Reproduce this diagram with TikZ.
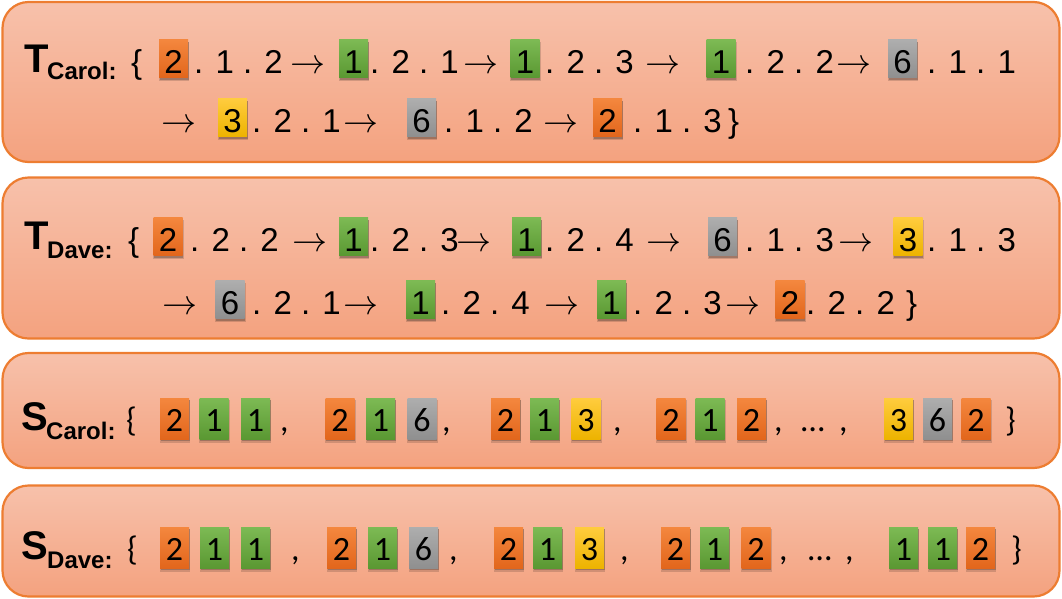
\RequirePackage{fix-cm}
\documentclass[tikz,border=0pt]{standalone}
\usepackage{fontspec}
\usetikzlibrary{shadows}
\newfontfamily\arialf{Liberation Sans}
\newfontfamily\calf{Carlito}
\newcommand\tfnt{\arialf\fontsize{33}{33}\selectfont}
\newcommand\sfnt{\calf\fontsize{34}{34}\selectfont}
\newcommand\lblfnt{\arialf\bfseries\fontsize{40}{40}\selectfont}
\newcommand\subfnt{\arialf\bfseries\fontsize{24}{24}\selectfont}
\newcommand\arrfnt{\fontsize{35}{35}\selectfont}
\definecolor{panT}{HTML}{F7C1AB}
\definecolor{panB}{HTML}{F4A27F}
\definecolor{panD}{HTML}{ED7D31}
\definecolor{oT}{HTML}{F4873E}
\definecolor{oB}{HTML}{E2661C}
\definecolor{gT}{HTML}{7DBA54}
\definecolor{gB}{HTML}{5A9832}
\definecolor{yT}{HTML}{FFCC3E}
\definecolor{yB}{HTML}{EDB300}
\definecolor{aT}{HTML}{AEAEAE}
\definecolor{aB}{HTML}{8F8F8F}
\tikzset{
  panel/.style={draw=panD, line width=2.2pt, rounded corners=26pt, top color=panT, bottom color=panB, inner sep=0pt},
  bxbase/.style={anchor=base, inner sep=0pt, minimum width=29pt, text=black,
     general shadow={shadow xshift=0.5pt, shadow yshift=-3pt, opacity=0.15, fill=black, shadow scale=1.04},
     drop shadow={shadow xshift=0.8pt, shadow yshift=-2pt, opacity=0.28, fill=black!85}},
  tbx/.style={bxbase, text height=33.5pt, text depth=4.5pt, font=\tfnt},
  sbx/.style={bxbase, text height=33pt, text depth=8pt, font=\sfnt},
  cO/.style={top color=oT, bottom color=oB},
  cG/.style={top color=gT, bottom color=gB},
  cY/.style={top color=yT, bottom color=yB},
  cA/.style={top color=aT, bottom color=aB},
  ttxt/.style={anchor=base west, inner sep=0pt, font=\tfnt},
  stxt/.style={anchor=base west, inner sep=0pt, font=\sfnt},
  arr/.style={anchor=base, inner sep=0pt, font=\arrfnt},
  lbl/.style={anchor=base west, inner sep=0pt, font=\lblfnt},
  sublbl/.style={anchor=base west, inner sep=0pt, font=\subfnt},
}
\begin{document}
\begin{tikzpicture}[x=1pt, y=-1pt]
\useasboundingbox (0,0) rectangle (1062,598);
% panels
\node[panel, minimum width=1057pt, minimum height=160pt] (p1) at (531,82) {};
\node[panel, minimum width=1057pt, minimum height=161pt] (p2) at (531,258) {};
\node[panel, minimum width=1057pt, minimum height=115pt] (p3) at (531,410.5) {};
\node[panel, minimum width=1057pt, minimum height=111pt] (p4) at (531,541) {};

% ---------------- T Carol ----------------
\node[lbl] (tcL) at (24,72) {T};
\node[sublbl] (tcS) at (47,79) {Carol:};
\node[ttxt] (tcB) at (131,73) {\{};
\node[tbx,cO] (tc1) at (173.5,73) {2};
\node[ttxt] (tc1t) at (194,73) {. 1 . 2};
\node[arr] (tca1) at (307.5,73) {$\rightarrow$};
\node[tbx,cG] (tc2) at (353.5,73) {1};
\node[ttxt] (tc2t) at (370,73) {. 2 . 1};
\node[arr] (tca2) at (481,73) {$\rightarrow$};
\node[tbx,cG] (tc3) at (525,73) {1};
\node[ttxt] (tc3t) at (545,73) {. 2 . 3};
\node[arr] (tca3) at (662.5,73) {$\rightarrow$};
\node[tbx,cG] (tc4) at (721,73) {1};
\node[ttxt] (tc4t) at (745,73) {. 2 . 2};
\node[arr] (tca4) at (854,73) {$\rightarrow$};
\node[tbx,cA] (tc5) at (902.5,73) {6};
\node[ttxt] (tc5t) at (927,73) {. 1 . 1};
% line 2
\node[arr] (tca5) at (179,132) {$\rightarrow$};
\node[tbx,cY] (tc6) at (232.5,132) {3};
\node[ttxt] (tc6t) at (252,132) {. 2 . 1};
\node[arr] (tca6) at (361,132) {$\rightarrow$};
\node[tbx,cA] (tc7) at (421.5,132) {6};
\node[ttxt] (tc7t) at (444,132) {. 1 . 2};
\node[arr] (tca7) at (561,132) {$\rightarrow$};
\node[tbx,cO] (tc8) at (607.5,132) {2};
\node[ttxt] (tc8t) at (633,132) {. 1 . 3};
\node[ttxt] (tcE) at (728,132) {\}};

% ---------------- T Dave ----------------
\node[lbl] (tdL) at (24,249) {T};
\node[sublbl] (tdS) at (47,258) {Dave:};
\node[ttxt] (tdB) at (128,251) {\{};
\node[tbx,cO] (td1) at (168,251) {2};
\node[ttxt] (td1t) at (190,251) {. 2 . 2};
\node[arr] (tda1) at (309.5,251) {$\rightarrow$};
\node[tbx,cG] (td2) at (353.5,251) {1};
\node[ttxt] (td2t) at (370,251) {. 2 . 3};
\node[arr] (tda2) at (474,251) {$\rightarrow$};
\node[tbx,cG] (td3) at (526.5,251) {1};
\node[ttxt] (td3t) at (545,251) {. 2 . 4};
\node[arr] (tda3) at (663.5,251) {$\rightarrow$};
\node[tbx,cA] (td4) at (722.5,251) {6};
\node[ttxt] (td4t) at (745,251) {. 1 . 3};
\node[arr] (tda4) at (855.5,251) {$\rightarrow$};
\node[tbx,cY] (td5) at (908,251) {3};
\node[ttxt] (td5t) at (927,251) {. 1 . 3};
% line 2
\node[arr] (tda5) at (179.5,314) {$\rightarrow$};
\node[tbx,cA] (td6) at (230,314) {6};
\node[ttxt] (td6t) at (252,314) {. 2 . 1};
\node[arr] (tda6) at (360.5,314) {$\rightarrow$};
\node[tbx,cG] (td7) at (420.5,314) {1};
\node[ttxt] (td7t) at (441,314) {. 2 . 4};
\node[arr] (tda7) at (561.5,314) {$\rightarrow$};
\node[tbx,cG] (td8) at (611.5,314) {1};
\node[ttxt] (td8t) at (633,314) {. 2 . 3};
\node[arr] (tda8) at (742.5,314) {$\rightarrow$};
\node[tbx,cO] (td9) at (790,314) {2};
\node[ttxt] (td9t) at (806,314) {. 2 . 2};
\node[ttxt] (tdE) at (906,314) {\}};

% ---------------- S Carol ----------------
\node[lbl] (scL) at (21,430) {S};
\node[sublbl] (scS) at (46,439) {Carol:};
\node[stxt] (scB) at (126,431) {\{};
\node[sbx,cO] (sc1) at (174.5,431) {2};
\node[sbx,cG] (sc2) at (214,431) {1};
\node[sbx,cG] (sc3) at (255.5,431) {1};
\node[stxt] (scc1) at (280,431) {,};
\node[sbx,cO] (sc4) at (340,431) {2};
\node[sbx,cG] (sc5) at (380.5,431) {1};
\node[sbx,cA] (sc6) at (422,431) {6};
\node[stxt] (scc2) at (442,431) {,};
\node[sbx,cO] (sc7) at (505.5,431) {2};
\node[sbx,cG] (sc8) at (544.5,431) {1};
\node[sbx,cY] (sc9) at (586,431) {3};
\node[stxt] (scc3) at (613,431) {,};
\node[sbx,cO] (sc10) at (671,431) {2};
\node[sbx,cG] (sc11) at (710,431) {1};
\node[sbx,cO] (sc12) at (751.5,431) {2};
\node[stxt] (scc4) at (774,431) {,};
\node[stxt] (scdots) at (801,431) {…};
\node[stxt] (scc5) at (839,431) {,};
\node[sbx,cY] (sc13) at (898.5,431) {3};
\node[sbx,cA] (sc14) at (937.5,431) {6};
\node[sbx,cO] (sc15) at (976,431) {2};
\node[stxt] (scE) at (1005,431) {\}};

% ---------------- S Dave ----------------
\node[lbl] (sdL) at (21,559) {S};
\node[sublbl] (sdS) at (47,568) {Dave:};
\node[stxt] (sdB) at (127,560) {\{};
\node[sbx,cO] (sd1) at (174.5,560) {2};
\node[sbx,cG] (sd2) at (214.5,560) {1};
\node[sbx,cG] (sd3) at (255.5,560) {1};
\node[stxt] (sdc1) at (291,560) {,};
\node[sbx,cO] (sd4) at (341.5,560) {2};
\node[sbx,cG] (sd5) at (382.5,560) {1};
\node[sbx,cA] (sd6) at (423.5,560) {6};
\node[stxt] (sdc2) at (449,560) {,};
\node[sbx,cO] (sd7) at (508.5,560) {2};
\node[sbx,cG] (sd8) at (547.5,560) {1};
\node[sbx,cY] (sd9) at (589.5,560) {3};
\node[stxt] (sdc3) at (620,560) {,};
\node[sbx,cO] (sd10) at (675.5,560) {2};
\node[sbx,cG] (sd11) at (714.5,560) {1};
\node[sbx,cO] (sd12) at (756,560) {2};
\node[stxt] (sdc4) at (779,560) {,};
\node[stxt] (sddots) at (808,560) {…};
\node[stxt] (sdc5) at (845,560) {,};
\node[sbx,cG] (sd13) at (903.5,560) {1};
\node[sbx,cG] (sd14) at (942.5,560) {1};
\node[sbx,cO] (sd15) at (980.5,560) {2};
\node[stxt] (sdE) at (1011,560) {\}};
\end{tikzpicture}
\end{document}
